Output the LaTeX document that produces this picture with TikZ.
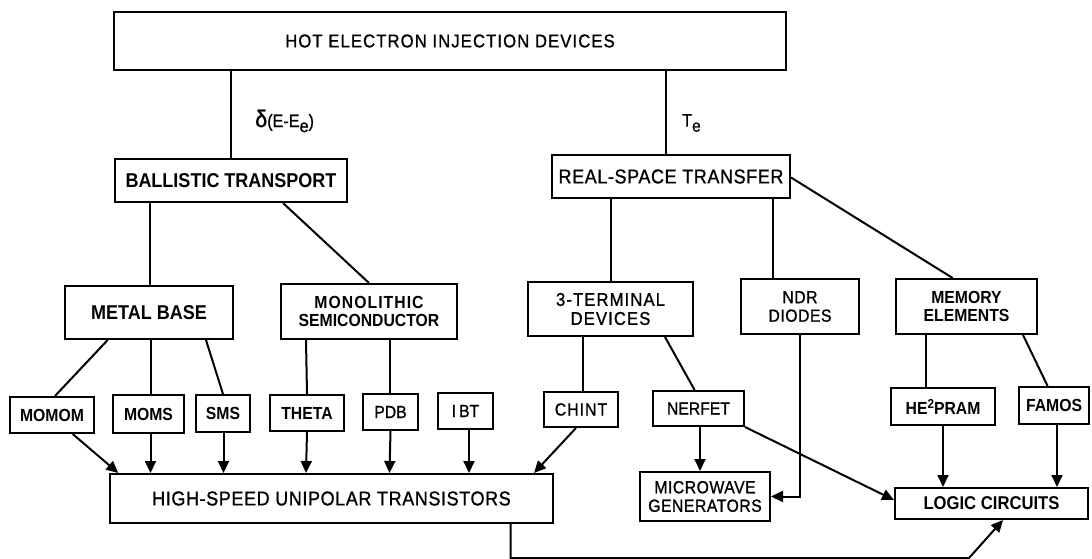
\documentclass[tikz,border=0pt]{standalone}
\usepackage{fontspec}
\setmainfont{Liberation Sans}
\newfontfamily\rg[FakeStretch=0.9,FakeBold=1]{Liberation Sans}
\newfontfamily\rgA[FakeStretch=0.9,FakeBold=1,LetterSpace=6]{Liberation Sans}
\newfontfamily\rgB[FakeStretch=0.9,FakeBold=1,LetterSpace=3]{Liberation Sans}
\newfontfamily\bd[FakeStretch=0.9]{Liberation Sans Bold}
\newfontfamily\bdA[FakeStretch=0.9,LetterSpace=6]{Liberation Sans Bold}
\usetikzlibrary{arrows.meta}
\tikzset{
  box/.style={draw, line width=2pt, inner sep=0pt, align=center, anchor=center},
  conn/.style={line width=2pt},
  arr/.style={line width=2pt, -{Triangle[length=12pt,width=11pt]}},
}
\newcommand{\fa}{\fontsize{17.5}{18.5}\selectfont}
\newcommand{\fb}{\fontsize{18.5}{19}\selectfont}
\newcommand{\fc}{\fontsize{20}{20}\selectfont}
\begin{document}
\begin{tikzpicture}[x=1pt,y=-1pt]
\useasboundingbox (0,0) rectangle (1092,559);
% level 0
\node[box, font={\rgA\fb}, minimum width=672pt, minimum height=58pt] (top) at (450,41) {HOT ELECTRON INJECTION DEVICES};
% level 1
\node[box, font={\bd\fc}, minimum width=232pt, minimum height=43pt] (ball) at (231,180.5) {BALLISTIC TRANSPORT};
\node[box, font={\rgB\fc}, minimum width=238pt, minimum height=43pt] (real) at (671,176.5) {REAL-SPACE TRANSFER};
% level 2
\node[box, font={\bd\fc}, minimum width=168pt, minimum height=53pt] (metal) at (149,312.5) {METAL BASE};
\node[box, font={\bd\fa}, minimum width=176pt, minimum height=55pt] (mono) at (369,311.5) {{\bdA\fa MONOLITHIC}\\SEMICONDUCTOR};
\node[box, font={\rgA\fb}, minimum width=165pt, minimum height=54pt] (three) at (610.5,309) {3-TERMINAL\\DEVICES};
\node[box, font={\rgB\fa}, minimum width=118pt, minimum height=55pt] (ndr) at (800,306.5) {NDR\\DIODES};
\node[box, font={\bd\fa}, minimum width=141pt, minimum height=55pt] (mem) at (966.5,306.5) {MEMORY\\ELEMENTS};
% level 3
\node[box, font={\bd\fa}, minimum width=84pt, minimum height=36pt] (momom) at (52,415) {MOMOM};
\node[box, font={\bd\fa}, minimum width=71pt, minimum height=38pt] (moms) at (148.5,414) {MOMS};
\node[box, font={\bd\fa}, minimum width=54pt, minimum height=37pt] (sms) at (223,413.5) {SMS};
\node[box, font={\bd\fa}, minimum width=74pt, minimum height=36pt] (theta) at (307,413) {THETA};
\node[box, font={\rg\fa}, minimum width=55pt, minimum height=36pt] (pdb) at (390.5,412) {PDB};
\node[box, font={\rg\fa}, minimum width=55pt, minimum height=36pt] (ibt) at (465.5,411) {I\,BT};
\node[box, font={\rgA\fa}, minimum width=74pt, minimum height=35pt] (chint) at (581,409.5) {CHINT};
\node[box, font={\rg\fa}, minimum width=91pt, minimum height=35pt] (nerfet) at (698.5,408.5) {NERFET};
\node[box, font={\bd\fa}, minimum width=104pt, minimum height=37pt] (he2) at (943,406.5) {HE\raisebox{6pt}{\fontsize{13}{13}\selectfont 2}PRAM};
\node[box, font={\bd\fa}, minimum width=70pt, minimum height=37pt] (famos) at (1054,405.5) {FAMOS};
% level 4
\node[box, font={\rgB\fc}, minimum width=443pt, minimum height=49pt] (hsut) at (331.5,498.5) {HIGH-SPEED UNIPOLAR TRANSISTORS};
\node[box, font={\rgB\fa}, minimum width=130pt, minimum height=49pt] (micro) at (705,496.5) {MICROWAVE\\GENERATORS};
\node[box, font={\bd\fb}, minimum width=193pt, minimum height=31pt] (logic) at (991.5,503.5) {LOGIC CIRCUITS};
% labels
\node[anchor=west, inner sep=0pt, font={\rg}] (ldelta) at (255,121) {\fontsize{24}{24}\selectfont δ\fontsize{18}{18}\selectfont(E-E\raisebox{-5pt}{e})};
\node[anchor=west, inner sep=0pt, font={\rg}] (lte) at (682,123) {\fontsize{18}{18}\selectfont T\raisebox{-5pt}{\fontsize{17}{17}\selectfont e}};
% connectors level 0-1
\draw[conn] (ball.north |- top.south) -- (ball.north);
\draw[conn] ([xshift=553pt]top.south west) -- ([xshift=115pt]real.north west);
% level 1-2
\draw[conn] ([xshift=35.5pt]ball.south west) -- ([xshift=85.5pt]metal.north west);
\draw[conn] ([xshift=169pt]ball.south west) -- (mono.north);
\draw[conn] ([xshift=60pt]real.south west) -- ([xshift=84pt]three.north west);
\draw[conn] ([xshift=222pt]real.south west) -- ([xshift=33pt]ndr.north west);
\draw[conn] ([yshift=-1pt]real.east) -- ([xshift=57.6pt]mem.north west);
% level 2-3
\draw[conn] ([xshift=43.7pt]metal.south west) -- ([xshift=46pt]momom.north west);
\draw[conn] ([xshift=86.5pt]metal.south west) -- ([xshift=38.5pt]moms.north west);
\draw[conn] ([xshift=142pt]metal.south west) -- (sms.north);
\draw[conn] ([xshift=26pt]mono.south west) -- (theta.north);
\draw[conn] ([xshift=110pt]mono.south west) -- ([xshift=28pt]pdb.north west);
\draw[conn] ([xshift=56pt]three.south west) -- ([xshift=40pt]chint.north west);
\draw[conn] ([xshift=138pt]three.south west) -- ([xshift=42.6pt]nerfet.north west);
\draw[conn] ([xshift=31pt]mem.south west) -- ([xshift=36pt]he2.north west);
\draw[conn] ([xshift=128pt]mem.south west) -- ([xshift=29.6pt]famos.north west);
% level 3-4
\draw[arr] ([xshift=63.7pt]momom.south west) -- ([xshift=9.3pt]hsut.north west);
\draw[arr] ([xshift=38.5pt]moms.south west) -- ([xshift=41.5pt]hsut.north west);
\draw[arr] ([xshift=28.5pt]sms.south west) -- ([xshift=114.5pt]hsut.north west);
\draw[arr] (theta.south) -- ([xshift=197pt]hsut.north west);
\draw[arr] (pdb.south) -- ([xshift=280.5pt]hsut.north west);
\draw[arr] ([xshift=32pt]ibt.south west) -- ([xshift=360pt]hsut.north west);
\draw[arr] ([xshift=33pt]chint.south west) -- ([xshift=425pt]hsut.north west);
\draw[arr] ([xshift=48pt]nerfet.south west) -- ([xshift=61pt]micro.north west);
\draw[arr] (ndr.south) |- (micro.east);
\draw[arr] (nerfet.south east) -- ([yshift=3.5pt]logic.west);
\draw[arr] ([xshift=53pt]he2.south west) -- ([xshift=49pt]logic.north west);
\draw[arr] ([xshift=39pt]famos.south west) -- ([xshift=163pt]logic.north west);
\draw[arr] ([xshift=401.7pt]hsut.south west) -- ++(0,34) -- ++(458.3,0) -- ([xshift=109pt]logic.south west);
\end{tikzpicture}
\end{document}
